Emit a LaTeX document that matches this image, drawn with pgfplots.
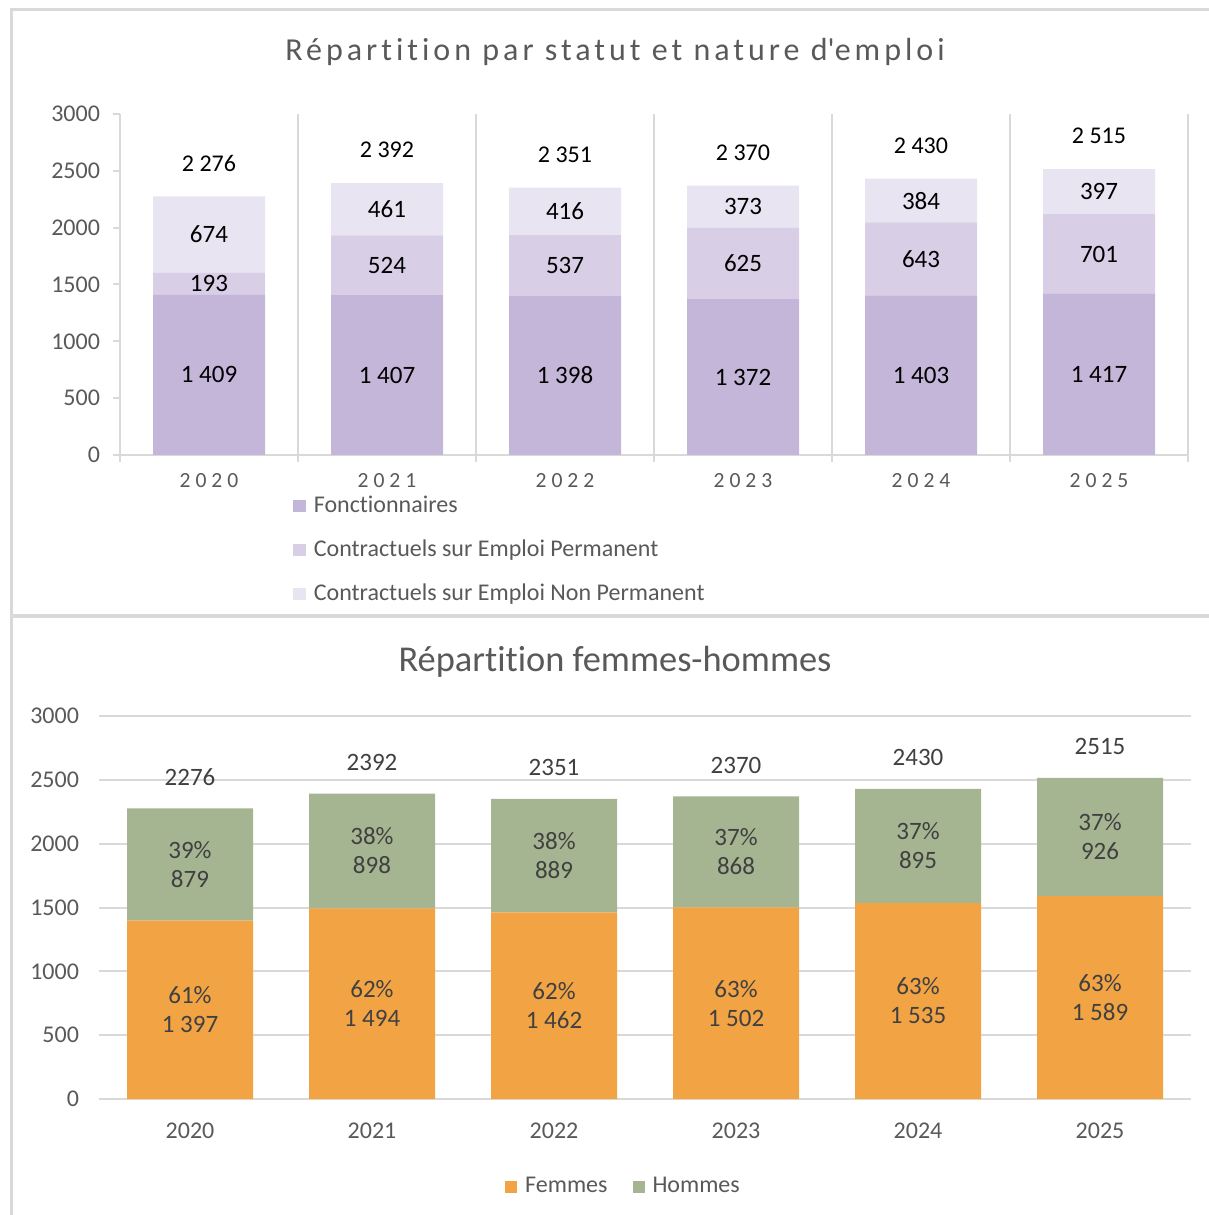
\documentclass[border=0pt]{standalone}
\usepackage{fontspec}
\setmainfont{Carlito}[Ligatures={TeX,NoCommon}]
\newfontfamily\titlespaced{Carlito}[LetterSpace=12.5,Ligatures={TeX,NoCommon}]
\newfontfamily\tickspaced{Carlito}[LetterSpace=23]
\usepackage{pgfplots}
\pgfplotsset{compat=1.18}
\usepackage{pgfplotstable}

\definecolor{pA}{HTML}{C4B6D8}
\definecolor{pB}{HTML}{D8CEE6}
\definecolor{pC}{HTML}{E8E4F2}
\definecolor{orangeF}{HTML}{F2A445}
\definecolor{greenH}{HTML}{A5B592}
\definecolor{gridgray}{HTML}{D9D9D9}
\definecolor{txtgray}{HTML}{595959}
\definecolor{lblgray}{HTML}{404040}

\pgfplotsset{/pgf/number format/assume math mode=true}

\pgfplotstableread{
x F P NP T
0 1409 193 674 2276
1 1407 524 461 2392
2 1398 537 416 2351
3 1372 625 373 2370
4 1403 643 384 2430
5 1417 701 397 2515
}\topdata

\pgfplotstableread{
x Fe Fp H Hp T
0 1397 61 879 39 2276
1 1494 62 898 38 2392
2 1462 62 889 38 2351
3 1502 63 868 37 2370
4 1535 63 895 37 2430
5 1589 63 926 37 2515
}\botdata

\begin{document}
\begin{tikzpicture}
\useasboundingbox (0pt,0pt) rectangle (604.5pt,607.5pt);
% frame lines
\draw[gridgray, line width=1.5pt] (5.5pt,0pt) -- (5.5pt,602.5pt) -- (604.5pt,602.5pt);
\draw[gridgray, line width=2pt] (5.5pt,299.25pt) -- (604.5pt,299.25pt);

% titles
\node[anchor=base, inner sep=0pt, text=txtgray, font=\titlespaced\fontsize{16}{19}\selectfont] at (307.5pt,577pt) {Répartition par statut et nature d\textquotesingle emploi};
\node[anchor=base, inner sep=0pt, text=txtgray, font=\fontsize{18.2}{21}\selectfont] at (307.5pt,271.65pt) {Répartition femmes-hommes};

% ---------- top chart ----------
\begin{axis}[
  at={(60pt,380pt)}, anchor=south west,
  x=89pt, y=0.0568333pt,
  xmin=-0.5, xmax=5.5, ymin=0, ymax=3000,
  enlargelimits=false,
  ybar stacked, bar width=56pt,
  axis lines=left,
  axis line style={-, draw=gridgray, line width=1pt},
  xtick={-0.5,0.5,1.5,2.5,3.5,4.5,5.5},
  x tick label as interval,
  xticklabels={2020,2021,2022,2023,2024,2025},
  xmajorgrids, grid style={gridgray, line width=1pt},
  ytick={0,500,...,3000},
  tick align=outside, major tick length=3.5pt,
  tick style={gridgray, line width=1pt},
  tick label style={font=\fontsize{12}{14}\selectfont, text=txtgray},
  xticklabel style={font=\tickspaced\fontsize{10.8}{12}\selectfont, anchor=center, yshift=-9.5pt},
  yticklabel style={anchor=east, xshift=-3pt},
  /pgf/number format/1000 sep={},
  point meta=explicit,
  nodes near coords={\pgfmathprintnumber[1000 sep={\ }]{\pgfplotspointmeta}},
  every node near coord/.append style={font=\fontsize{12.5}{14}\selectfont, text=black, anchor=center},
  legend image code/.code={\fill[#1] (0pt,-3.1pt) rectangle (6.2pt,3.1pt);},
  legend cell align=left,
  legend style={at={(axis description cs:0.162,-0.1164)}, anchor=north west, draw=none, fill=none,
    font=\fontsize{12}{14}\selectfont, row sep=11pt, inner sep=0pt,
    nodes={inner sep=0pt, text height=8.5pt, text depth=2.5pt, text=txtgray},
    /tikz/every odd column/.append style={column sep=4pt}},
]
\addplot[fill=pA, draw=none] table[x=x, y=F, meta=F]{\topdata};
\addlegendentry{Fonctionnaires}
\addplot[fill=pB, draw=none] table[x=x, y=P, meta=P]{\topdata};
\addlegendentry{Contractuels sur Emploi Permanent}
\addplot[fill=pC, draw=none] table[x=x, y=NP, meta=NP]{\topdata};
\addlegendentry{Contractuels sur Emploi Non Permanent}
\end{axis}

% totals of top chart
\begin{axis}[
  at={(60pt,380pt)}, anchor=south west,
  x=89pt, y=0.0568333pt,
  xmin=-0.5, xmax=5.5, ymin=0, ymax=3000,
  enlargelimits=false, hide axis,
  point meta=explicit,
  nodes near coords={\pgfmathprintnumber[1000 sep={\ }]{\pgfplotspointmeta}},
  every node near coord/.append style={font=\fontsize{12}{14}\selectfont, text=black, anchor=center, yshift=16.5pt},
]
\addplot[only marks, mark=text, text mark={}] table[x=x, y=T, meta=T]{\topdata};
\end{axis}

% ---------- bottom chart ----------
\begin{axis}[
  at={(49.5pt,58pt)}, anchor=south west,
  x=91pt, y=0.0638333pt,
  xmin=-0.5, xmax=5.5, ymin=0, ymax=3000,
  enlargelimits=false,
  ybar stacked, bar width=63pt,
  axis line style={draw=none},
  major tick length=0pt,
  ymajorgrids, grid style={gridgray, line width=1pt},
  ytick={0,500,...,3000},
  xtick={0,1,2,3,4,5},
  xticklabels={2020,2021,2022,2023,2024,2025},
  tick label style={font=\fontsize{12}{14}\selectfont, text=txtgray},
  xticklabel style={anchor=center, yshift=-16pt},
  yticklabel style={anchor=east, xshift=-6.5pt},
  /pgf/number format/1000 sep={},
  every node near coord/.append style={font=\fontsize{12.5}{14.5}\selectfont, text=lblgray, anchor=center, align=center},
  legend image code/.code={\fill[#1] (0pt,-3pt) rectangle (6pt,3pt);},
  legend columns=2,
  legend style={at={(axis description cs:0.4794,-0.2297)}, anchor=center, draw=none, fill=none,
    font=\fontsize{12}{14}\selectfont, inner sep=0pt,
    nodes={inner sep=0pt, text height=8.5pt, text depth=2.5pt, text=txtgray},
    /tikz/every odd column/.append style={column sep=4pt},
    /tikz/every even column/.append style={column sep=12.5pt}},
]
\addplot[fill=orangeF, draw=none, point meta=explicit symbolic,
  visualization depends on={rawy\as\rawv},
  nodes near coords={\pgfplotspointmeta\%\\\pgfmathprintnumber[1000 sep={\ }]{\rawv}}]
  table[x=x, y=Fe, meta=Fp]{\botdata};
\addlegendentry{Femmes}
\addplot[fill=greenH, draw=none, point meta=explicit symbolic,
  visualization depends on={rawy\as\rawv},
  nodes near coords={\pgfplotspointmeta\%\\\pgfmathprintnumber[1000 sep={\ }]{\rawv}}]
  table[x=x, y=H, meta=Hp]{\botdata};
\addlegendentry{Hommes}
\end{axis}

% totals of bottom chart
\begin{axis}[
  at={(49.5pt,58pt)}, anchor=south west,
  x=91pt, y=0.0638333pt,
  xmin=-0.5, xmax=5.5, ymin=0, ymax=3000,
  enlargelimits=false, hide axis,
  point meta=explicit,
  /pgf/number format/1000 sep={},
  nodes near coords={\pgfmathprintnumber{\pgfplotspointmeta}},
  every node near coord/.append style={font=\fontsize{12.5}{14}\selectfont, text=lblgray, anchor=center, yshift=15.5pt},
]
\addplot[only marks, mark=text, text mark={}] table[x=x, y=T, meta=T]{\botdata};
\end{axis}
\end{tikzpicture}
\end{document}
